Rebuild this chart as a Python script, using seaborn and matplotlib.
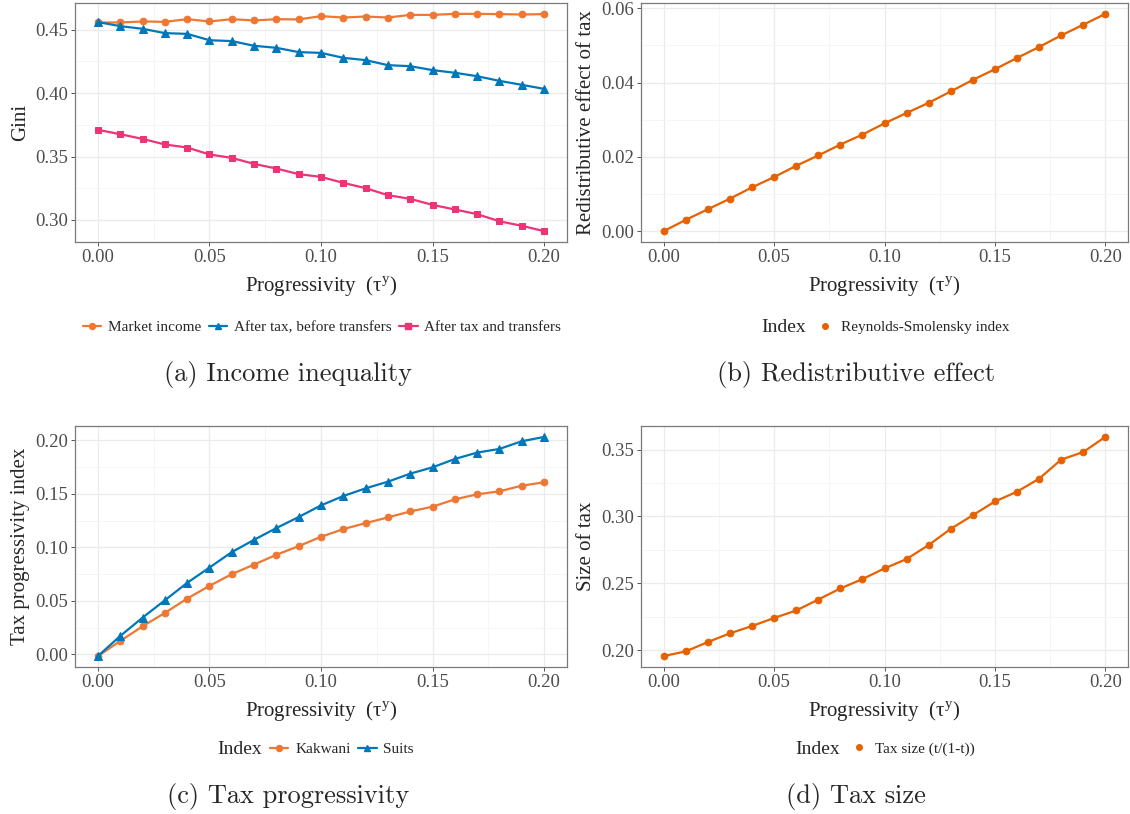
import numpy as np
import pandas as pd
import matplotlib
matplotlib.use("Agg")
import matplotlib.pyplot as plt
from matplotlib.lines import Line2D
from matplotlib.ticker import MultipleLocator, FormatStrFormatter, AutoMinorLocator
import seaborn as sns

# x axis: progressivity tau^y
tau = [round(0.01 * i, 2) for i in range(21)]

# (a) income inequality, Gini
gini_market = [0.4558, 0.4558, 0.4566, 0.4563, 0.4584, 0.4566, 0.4584, 0.4574, 0.4584, 0.4582, 0.4608,
               0.4597, 0.4605, 0.4597, 0.4618, 0.4618, 0.4626, 0.4626, 0.4624, 0.4621, 0.4624]
gini_after_tax = [0.4561, 0.4529, 0.4508, 0.4474, 0.4468, 0.4418, 0.4411, 0.4374, 0.4358, 0.4324, 0.4318,
                  0.4279, 0.4261, 0.4221, 0.4213, 0.4182, 0.4161, 0.4134, 0.4097, 0.4066, 0.4034]
gini_after_transfers = [0.3711, 0.3676, 0.3639, 0.3595, 0.3571, 0.3516, 0.3489, 0.3442, 0.3405, 0.3361, 0.3339,
                        0.3292, 0.3250, 0.3195, 0.3166, 0.3118, 0.3082, 0.3045, 0.2989, 0.2953, 0.2911]

# (b) Reynolds-Smolensky index
reynolds = [0.0, 0.00304, 0.00589, 0.00875, 0.01179, 0.01455, 0.01759, 0.02036, 0.02330, 0.02598, 0.02902,
            0.03179, 0.03455, 0.03759, 0.04071, 0.04357, 0.04661, 0.04955, 0.05268, 0.05554, 0.05848]

# (c) tax progressivity
kakwani = [-0.0016, 0.0125, 0.0262, 0.0387, 0.0521, 0.0640, 0.0749, 0.0839, 0.0930, 0.1011, 0.1098,
           0.1170, 0.1226, 0.1279, 0.1335, 0.1379, 0.1448, 0.1495, 0.1523, 0.1576, 0.1607]
suits = [-0.0016, 0.0172, 0.0343, 0.0505, 0.0668, 0.0811, 0.0955, 0.1070, 0.1180, 0.1283, 0.1392,
         0.1479, 0.1551, 0.1613, 0.1688, 0.1747, 0.1825, 0.1885, 0.1919, 0.1991, 0.2031]

# (d) tax size t/(1-t)
tax_size = [0.1955, 0.1990, 0.2060, 0.2125, 0.2180, 0.2240, 0.2296, 0.2378, 0.2461, 0.2531, 0.2611,
            0.2681, 0.2786, 0.2907, 0.3009, 0.3112, 0.3185, 0.3282, 0.3425, 0.3482, 0.3595]

ORANGE = "#EE7733"
BLUE = "#0077BB"
MAGENTA = "#EE3377"
DARK_ORANGE = "#E66100"

sns.set_style("ticks")
plt.rcParams["font.family"] = ["Liberation Serif", "DejaVu Serif"]
plt.rcParams["mathtext.fontset"] = "custom"
plt.rcParams["mathtext.rm"] = "Liberation Serif"

W, H = 1130, 814
fig = plt.figure(figsize=(W / 100, H / 100), dpi=100)


def px_axes(left, right, top, bottom):
    return fig.add_axes([left / W, 1 - bottom / H, (right - left) / W, (bottom - top) / H])


def style_axes(ax, ystep, ylabel):
    ax.xaxis.set_major_locator(MultipleLocator(0.05))
    ax.xaxis.set_major_formatter(FormatStrFormatter("%.2f"))
    ax.yaxis.set_major_locator(MultipleLocator(ystep))
    ax.yaxis.set_major_formatter(FormatStrFormatter("%.2f"))
    ax.xaxis.set_minor_locator(AutoMinorLocator(2))
    ax.yaxis.set_minor_locator(AutoMinorLocator(2))
    ax.grid(which="major", color="#EBEBEB", lw=0.9)
    ax.grid(which="minor", color="#F4F4F4", lw=0.6)
    ax.set_axisbelow(True)
    ax.tick_params(which="major", length=3, width=0.7, color="#555555", labelsize=13.5,
                   labelcolor="#4D4D4D", pad=2)
    ax.tick_params(which="minor", length=0)
    for s in ax.spines.values():
        s.set_color("#7A7A7A")
        s.set_linewidth(0.9)
    ax.set_xlim(-0.0103, 0.2103)
    ax.set_xlabel(r"Progressivity  ($\mathrm{\tau}^{\mathrm{y}}$)", fontsize=15, labelpad=6)
    ax.set_ylabel(ylabel, fontsize=15, labelpad=4)


def draw(ax, y, color, marker, ms=4.8):
    sns.lineplot(x=tau, y=y, ax=ax, color=color, marker=marker, markersize=ms,
                 markeredgecolor=color, lw=1.6, legend=False)


# (a)
ax_a = px_axes(75, 567, 3, 242)
draw(ax_a, gini_market, ORANGE, "o")
draw(ax_a, gini_after_tax, BLUE, "^", 5.2)
draw(ax_a, gini_after_transfers, MAGENTA, "s", 4.4)
style_axes(ax_a, 0.05, "Gini")

# (b)
ax_b = px_axes(641, 1128, 3, 242)
draw(ax_b, reynolds, DARK_ORANGE, "o")
style_axes(ax_b, 0.02, "Redistributive effect of tax")

# (c)
ax_c = px_axes(75, 567, 426, 667)
draw(ax_c, kakwani, ORANGE, "o")
draw(ax_c, suits, BLUE, "^", 5.2)
style_axes(ax_c, 0.05, "Tax progressivity index")

# (d)
ax_d = px_axes(641, 1128, 426, 667)
draw(ax_d, tax_size, DARK_ORANGE, "o")
style_axes(ax_d, 0.05, "Size of tax")


def handle(color, marker, line=True, ms=4.3):
    return Line2D([], [], color=color, marker=marker, markersize=ms, lw=1.6 if line else 0)


leg_kw = dict(frameon=False, fontsize=11, handlelength=1.2, handletextpad=0.45,
              columnspacing=0.5, borderaxespad=0, borderpad=0)

# legend (a)
fig.legend([handle(ORANGE, "o"), handle(BLUE, "^"), handle(MAGENTA, "s")],
           ["Market income", "After tax, before transfers", "After tax and transfers"],
           loc="center", bbox_to_anchor=(322 / W, 1 - 327 / H), ncol=3, **leg_kw)

# legend (b)
fig.text(806 / W, 1 - 327 / H, "Index", fontsize=14, ha="right", va="center")
fig.legend([handle(DARK_ORANGE, "o", False, 4)], ["Reynolds-Smolensky index"],
           loc="center left", bbox_to_anchor=(816 / W, 1 - 327 / H), **leg_kw)

# legend (c)
fig.text(262 / W, 1 - 749 / H, "Index", fontsize=14, ha="right", va="center")
fig.legend([handle(ORANGE, "o"), handle(BLUE, "^")], ["Kakwani", "Suits"],
           loc="center left", bbox_to_anchor=(270 / W, 1 - 749 / H), ncol=2, **leg_kw)

# legend (d)
fig.text(840 / W, 1 - 749 / H, "Index", fontsize=14, ha="right", va="center")
fig.legend([handle(DARK_ORANGE, "o", False, 4)], ["Tax size (t/(1-t))"],
           loc="center left", bbox_to_anchor=(850 / W, 1 - 749 / H), **leg_kw)

# captions
cap_kw = dict(fontsize=19, ha="center", va="center", family=["cmr10", "DejaVu Serif"])
fig.text(288 / W, 1 - 374 / H, "(a) Income inequality", **cap_kw)
fig.text(856 / W, 1 - 374 / H, "(b) Redistributive effect", **cap_kw)
fig.text(288 / W, 1 - 796 / H, "(c) Tax progressivity", **cap_kw)
fig.text(856 / W, 1 - 796 / H, "(d) Tax size", **cap_kw)

fig.savefig("out.png", dpi=100)
